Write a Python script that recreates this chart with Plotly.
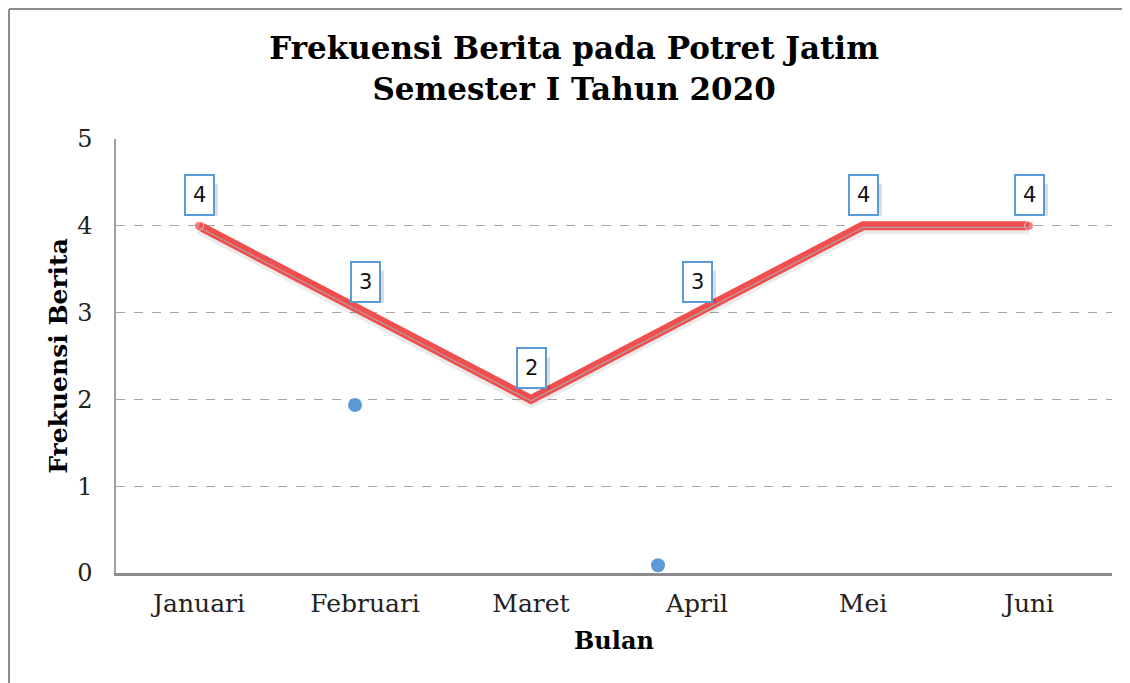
import plotly.graph_objects as go

months = ["Januari", "Februari", "Maret", "April", "Mei", "Juni"]
frekuensi = [4, 3, 2, 3, 4, 4]
# stray blue points visible in the picture (x in category index units)
extra_x = [0.94, 2.765]
extra_y = [1.935, 0.09]

idx = list(range(len(months)))
SERIF = "DejaVu Serif"
RED = "#F24E4E"
BLUE = "#5B9BD5"
PX = 5 / 434.0  # data units per pixel on the y axis

L, R, T, B = 108, 26, 131, 118
PW, PH = 1130 - L - R, 683 - T - B

fig = go.Figure()
# soft shadow of line
fig.add_trace(go.Scatter(x=idx, y=[v - 3 * PX for v in frekuensi], mode="lines",
                         line=dict(color="rgba(0,0,0,0.08)", width=11),
                         hoverinfo="skip", showlegend=False))
fig.add_trace(go.Scatter(x=idx, y=frekuensi, mode="lines+markers",
                         line=dict(color=RED, width=9),
                         marker=dict(size=[9, 0, 0, 0, 0, 9], color=RED),
                         showlegend=False))
fig.add_trace(go.Scatter(x=idx, y=[v - 1.5 * PX for v in frekuensi], mode="lines",
                         line=dict(color="rgba(170,170,170,0.9)", width=1.2),
                         hoverinfo="skip", showlegend=False))
fig.add_trace(go.Scatter(x=extra_x, y=extra_y, mode="markers",
                         marker=dict(size=14, color=BLUE),
                         showlegend=False))

for i, v in zip(idx, frekuensi):
    # drop shadow behind the data-label box
    fig.add_shape(type="rect", xref="x", yref="y", xsizemode="pixel", ysizemode="pixel",
                  xanchor=i, yanchor=v, x0=-12, x1=19, y0=10, y1=42,
                  fillcolor="rgba(0,0,0,0.13)", line=dict(width=0), layer="above")
    fig.add_annotation(x=i, y=v, text=str(v), showarrow=False, yshift=31,
                       font=dict(family="DejaVu Sans", size=21, color="#111111"),
                       bgcolor="white", bordercolor=BLUE, borderwidth=2, borderpad=7)

# outer border (left and top), in pixel-equivalent paper coords
bx = (1 - L) / PW
by = 1 + (T - 1) / PH
fig.add_shape(type="line", xref="paper", yref="paper",
              x0=bx, y0=-0.3, x1=bx, y1=by,
              line=dict(color="#8C8C8C", width=2))
fig.add_shape(type="line", xref="paper", yref="paper",
              x0=bx, y0=by, x1=1.05, y1=by,
              line=dict(color="#8C8C8C", width=2))

fig.update_layout(
    width=1130, height=683,
    margin=dict(l=L, r=R, t=T, b=B, autoexpand=False),
    paper_bgcolor="white", plot_bgcolor="white",
    title=dict(text="<b>Frekuensi Berita pada Potret Jatim<br>Semester I Tahun 2020</b>",
               x=0.501, xanchor="center", y=0.925, yanchor="top",
               font=dict(family=SERIF, size=31, color="black")),
    xaxis=dict(range=[-0.5, 5.5], tickmode="array", tickvals=idx, ticktext=months,
               showgrid=False, zeroline=False, showline=True, linecolor="#8C8C8C",
               linewidth=3, ticks="", ticklabelstandoff=6, automargin=False,
               tickfont=dict(family=SERIF, size=25, color="#222"),
               title=dict(text="<b>Bulan</b>", font=dict(family=SERIF, size=24, color="black"),
                          standoff=16)),
    yaxis=dict(range=[0, 5], dtick=1, showgrid=True, gridcolor="#A6A6A6",
               griddash="dash", gridwidth=1.3, zeroline=False, showline=True,
               linecolor="#A0A0A0", linewidth=1.5, ticks="", ticklabelstandoff=17,
               automargin=False,
               tickfont=dict(family=SERIF, size=24, color="#222"),
               title=dict(text="<b>Frekuensi Berita</b>",
                          font=dict(family=SERIF, size=25, color="black"), standoff=2)),
)

fig.write_html("out.html")
